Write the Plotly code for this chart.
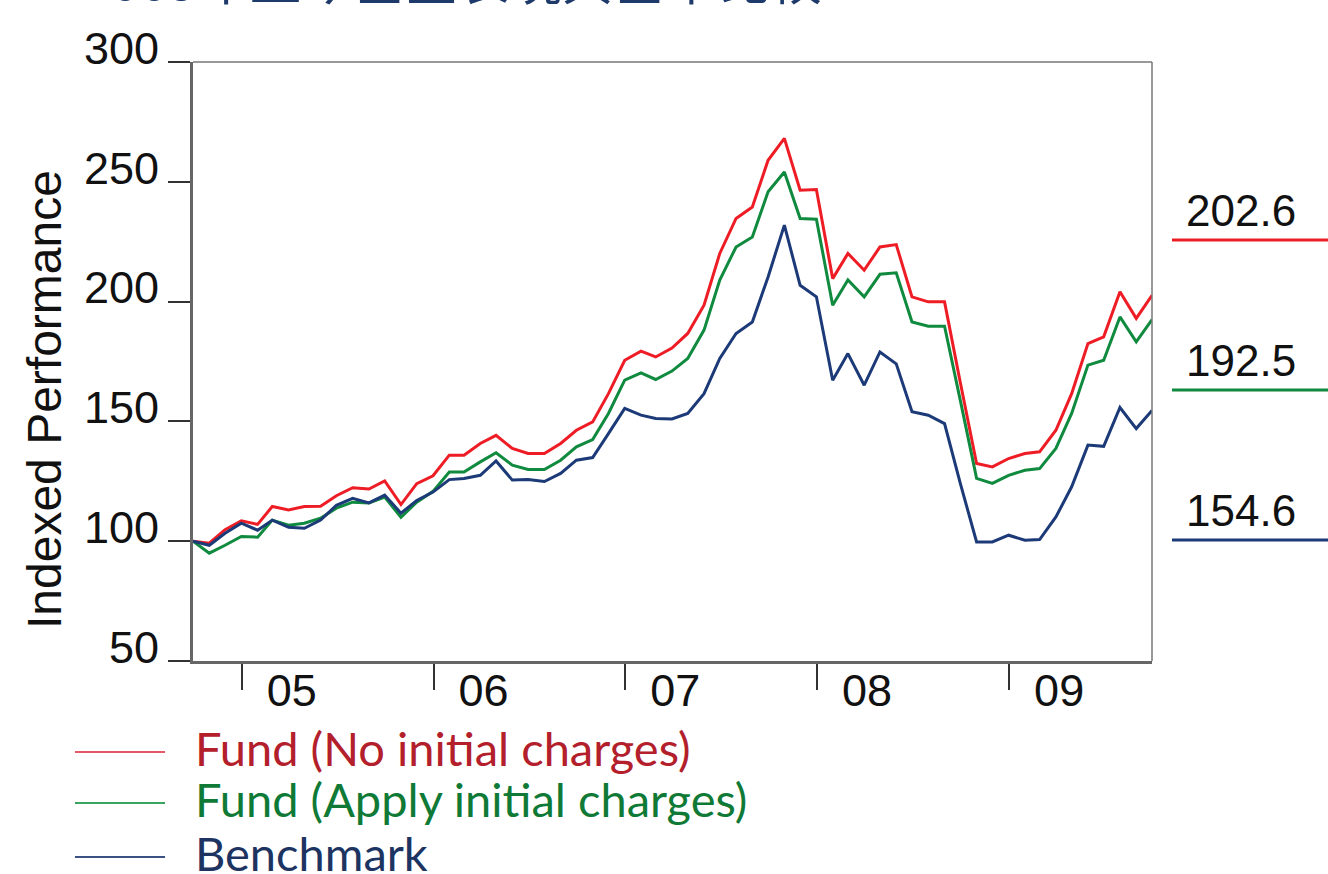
import plotly.graph_objects as go
import pandas as pd

# ---- data (monthly, indexed to 100) ----
dates = pd.date_range("2004-09-30", "2009-09-30", freq="ME")

fund_no_charge = [100, 99.2, 104.8, 108.5, 107, 114.5, 113, 114.5, 114.6, 119,
                  122.3, 121.8, 125.2, 115.3, 124, 127.3, 135.9, 135.9, 140.8, 144.2,
                  138.7, 136.6, 136.6, 140.8, 146.3, 149.8, 161.6, 175.5, 179.3, 176.9,
                  180.6, 186.7, 198.5, 220.1, 234.7, 239.5, 259, 268.1, 246.5, 246.8,
                  209.6, 220.1, 213.1, 222.8, 223.8, 202, 199.9, 199.9, 166.2, 132.4,
                  131, 134.5, 136.6, 137.3, 146.3, 161.6, 182.5, 185.3, 204.1, 193, 202.6]

fund_with_charge = [100, 95, 98.3, 102, 101.7, 108.8, 106.7, 107.5, 109.6, 113.8,
                    116.3, 115.9, 118.4, 110, 116.3, 120.8, 128.9, 128.9, 133.1, 136.9,
                    131.7, 129.9, 129.9, 133.8, 139.4, 142.4, 153.3, 167.2, 170.2, 167.5,
                    171, 176.3, 188.1, 209, 222.8, 227, 245.8, 254.1, 234.7, 234.4,
                    198.5, 209, 202, 211.4, 212, 191.5, 189.7, 189.7, 158.8, 126.2,
                    124.1, 127.5, 129.6, 130.3, 138.7, 153.3, 173.5, 175.5, 193.6, 183.2, 192.5]

benchmark = [100, 98.3, 103.3, 107.5, 104.6, 108.8, 105.8, 105.4, 108.8, 115,
             117.9, 116, 119.2, 111.7, 117, 120.5, 125.7, 126.2, 127.5, 133.5,
             125.5, 125.7, 124.9, 128.3, 133.8, 134.9, 144.9, 155.4, 152.6, 151.2,
             151, 153.3, 161.6, 176.3, 186.7, 191.5, 210.3, 231.9, 206.8, 202,
             167.2, 178.3, 165.1, 179, 174, 154, 152.6, 149.1, 124.1, 99.7,
             99.7, 102.5, 100.4, 100.7, 110.1, 122.7, 140.1, 139.6, 155.8, 147, 154.6]

series_names = ["Fund (No initial charges)", "Fund (Apply initial charges)", "Benchmark"]
final_labels = ["202.6", "192.5", "154.6"]
year_ticks = ["2005-01-01", "2006-01-01", "2007-01-01", "2008-01-01", "2009-01-01"]
year_labels = ["05", "06", "07", "08", "09"]
y_ticks = [50, 100, 150, 200, 250, 300]
y_title = "Indexed Performance"

line_colors = ["#ee1c25", "#108a3e", "#1c3a78"]
text_colors = ["#b3202c", "#0f7a36", "#1d3462"]
legend_line_colors = ["#e35a66", "#3aa55e", "#3a5283"]

fig = go.Figure()
for name, vals, col in zip(series_names, [fund_no_charge, fund_with_charge, benchmark], line_colors):
    fig.add_trace(go.Scatter(x=dates, y=vals, mode="lines", name=name,
                             line=dict(color=col, width=3), showlegend=False))

L, R, T, B = 193, 176, 62, 213
W, H = 1328, 874
pw, ph = W - L - R, H - T - B

def px_x(x):
    return (x - L) / pw

def px_y(y):
    return (H - B - y) / ph

sans = "Liberation Sans, Arial, sans-serif"
tick_font = dict(family=sans, size=45, color="#111111")

fig.update_layout(
    width=W, height=H,
    margin=dict(l=L, r=R, t=T, b=B, autoexpand=False),
    paper_bgcolor="white", plot_bgcolor="white",
    xaxis=dict(type="date", range=[dates[0], dates[-1]],
               tickvals=year_ticks, ticktext=year_labels,
               ticks="outside", ticklen=26, tickwidth=1.5, tickcolor="#333333",
               ticklabelshift=50, ticklabelstandoff=-38,
               showgrid=False, zeroline=False,
               showline=True, linewidth=3, linecolor="#666666",
               tickfont=tick_font),
    yaxis=dict(range=[50, 300], tickvals=y_ticks,
               ticks="outside", ticklen=22, tickwidth=1.5, tickcolor="#333333",
               ticklabelshift=-14,
               showgrid=False, zeroline=False,
               showline=True, linewidth=3, linecolor="#666666",
               tickfont=tick_font),
)

# y-axis title (placed like the reference, slightly below the plot centre)
fig.add_annotation(xref="paper", yref="paper", x=px_x(44), y=px_y(400),
                   text=y_title, textangle=-90, showarrow=False,
                   xanchor="center", yanchor="middle",
                   font=dict(family=sans, size=48, color="#111111"))

# thin top and right frame lines
fig.add_shape(type="line", xref="paper", yref="paper", x0=0, x1=1, y0=1, y1=1,
              line=dict(color="#777777", width=1.5))
fig.add_shape(type="line", xref="paper", yref="paper", x0=1, x1=1, y0=0, y1=1,
              line=dict(color="#777777", width=1.5))

# right-side final value labels with underlines
label_line_px = [240, 390, 540]
for lab, lp, col in zip(final_labels, label_line_px, line_colors):
    fig.add_shape(type="line", xref="paper", yref="paper",
                  x0=px_x(1172), x1=px_x(1330), y0=px_y(lp), y1=px_y(lp),
                  line=dict(color=col, width=3))
    fig.add_annotation(xref="paper", yref="paper", x=px_x(1241), y=px_y(lp - 3),
                       text=lab, showarrow=False, xanchor="center", yanchor="bottom",
                       font=dict(family=sans, size=44, color="#111111"))

# custom legend
legend_px = [752, 803, 857]
for name, lp, lc, tc in zip(series_names, legend_px, legend_line_colors, text_colors):
    fig.add_shape(type="line", xref="paper", yref="paper",
                  x0=px_x(75), x1=px_x(165), y0=px_y(lp), y1=px_y(lp),
                  line=dict(color=lc, width=2))
    fig.add_annotation(xref="paper", yref="paper", x=px_x(193), y=px_y(lp - 4),
                       text=name, showarrow=False, xanchor="left", yanchor="middle",
                       font=dict(family="Lato, Noto Sans, sans-serif", size=47, color=tc))

# cropped heading at the very top
fig.add_annotation(xref="paper", yref="paper", x=px_x(80), y=px_y(-22),
                   text="2005年至今基金表現與基準比較", showarrow=False,
                   xanchor="left", yanchor="middle",
                   font=dict(family="Noto Sans CJK TC", size=52, color="#1d3a6a"))

fig.write_html("out.html", config={"displayModeBar": False},
               post_script="document.body.style.margin='0';document.body.style.padding='0';document.body.style.overflow='hidden';")
